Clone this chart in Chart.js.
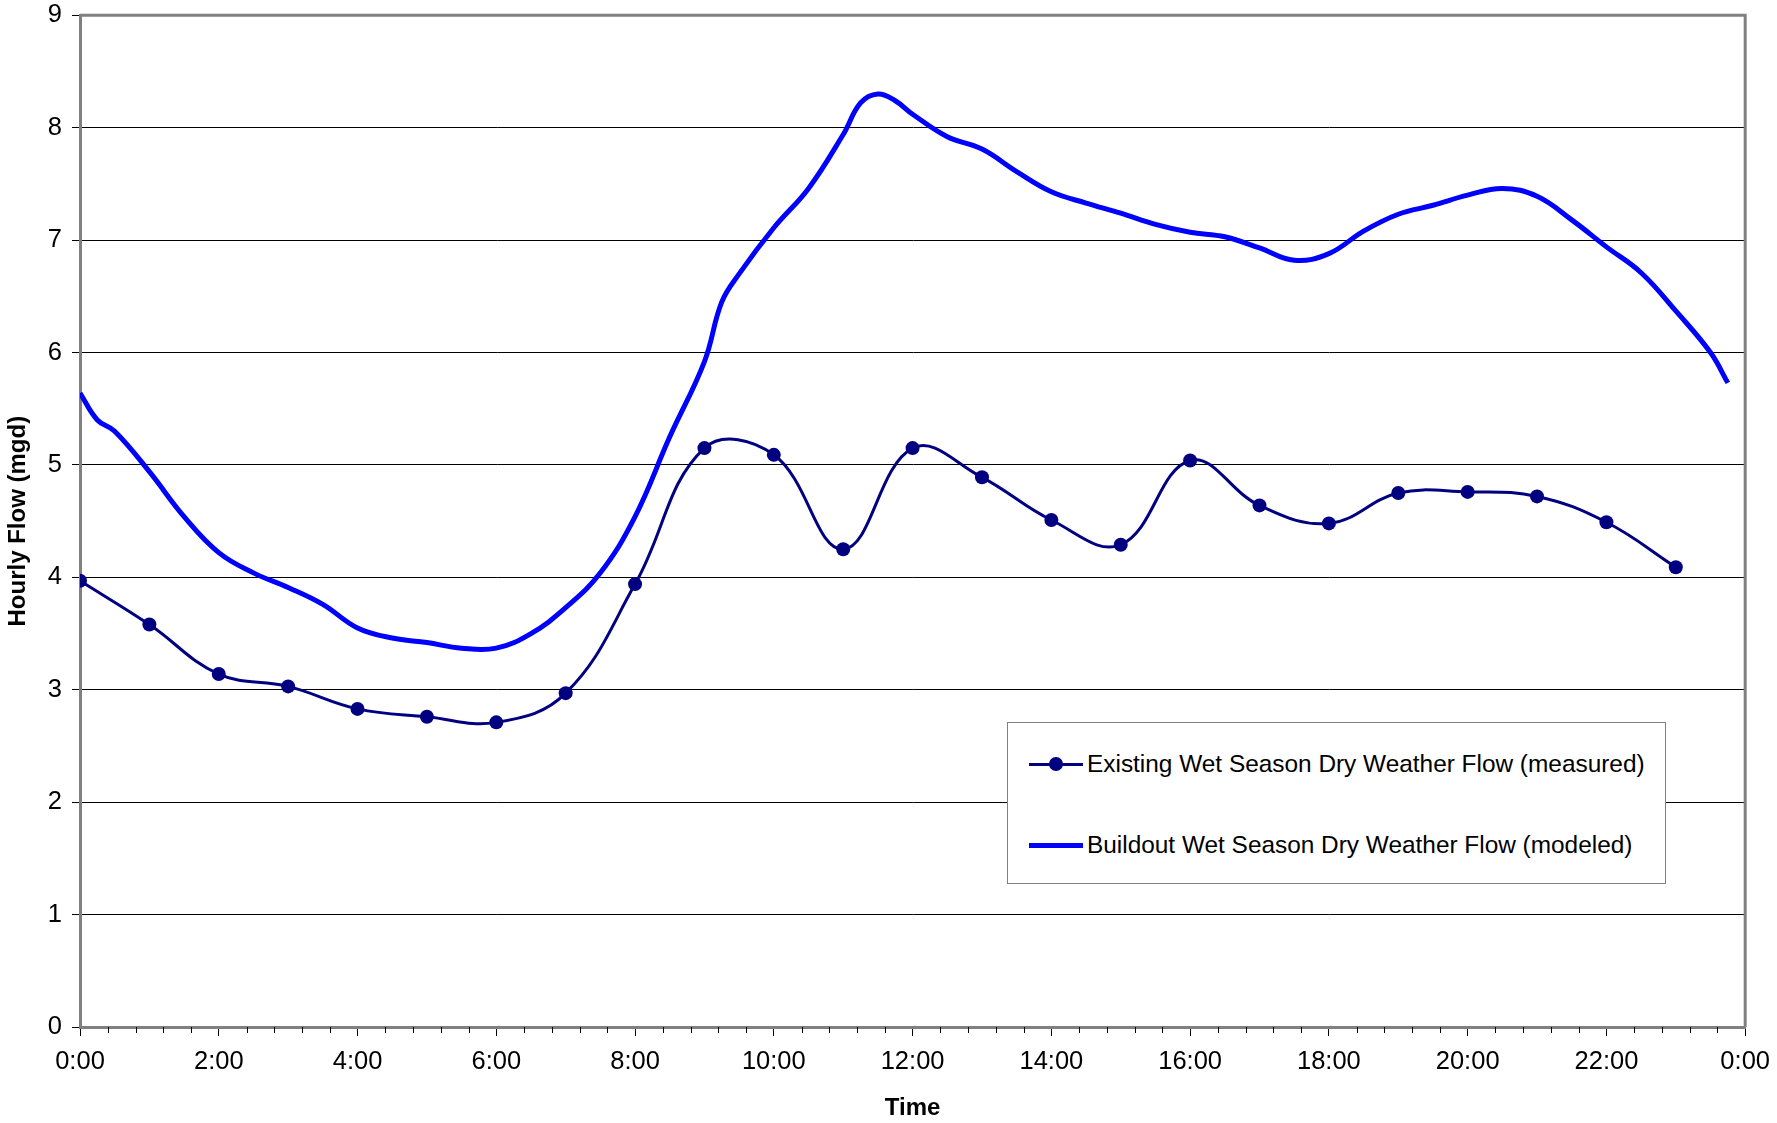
<!DOCTYPE html>
<html>
<head>
<meta charset="utf-8">
<script src="https://cdn.jsdelivr.net/npm/chart.js@4/dist/chart.umd.min.js"></script>
<style>
  html, body { margin: 0; padding: 0; background: #fff; }
  #wrap { position: relative; width: 1777px; height: 1123px; overflow: hidden; }
  #myChart { display: block; margin-top: -10px; }
  #leyenda {
    position: absolute; left: 1007px; top: 722px; width: 657px; height: 160px;
    border: 1px solid #808080; background: #fff;
    font-family: "Liberation Sans", Arial, sans-serif; font-size: 24.4px; color: #000;
  }
  .fila { position: absolute; left: 21px; height: 30px; display: flex; align-items: center; }
  .marca { position: relative; width: 54px; height: 30px; margin-right: 4px; }
  .marca .linea { position: absolute; left: 0; right: 0; top: 50%; }
  .marca .punto { position: absolute; left: 20px; top: 8px; width: 14px; height: 14px; border-radius: 50%; background: #000080; }
</style>
</head>
<body>
<div id="wrap">
  <canvas id="myChart" width="1781" height="1133"></canvas>
  <div id="leyenda"></div>
</div>
<script>
const horasExistente = [0, 1, 2, 3, 4, 5, 6, 7, 8, 9, 10, 11, 12, 13, 14, 15, 16, 17, 18, 19, 20, 21, 22, 23]
const flujoExistente = [3.97, 3.58, 3.14, 3.03, 2.83, 2.76, 2.71, 2.97, 3.94, 5.15, 5.09, 4.25,
                        5.15, 4.89, 4.51, 4.29, 5.04, 4.64, 4.48, 4.75, 4.76, 4.72, 4.49, 4.09]

const horasBuildout = [0, 0.25, 0.5, 1, 1.5, 2, 2.5, 3, 3.5, 4, 4.5, 5, 5.5, 6, 6.5, 7, 7.5, 8, 8.5, 9,
                       9.25, 9.5, 10, 10.5, 11, 11.25, 11.5, 11.75, 12, 12.5, 13, 13.5, 14, 14.5, 15,
                       15.5, 16, 16.5, 17, 17.5, 18, 18.5, 19, 19.5, 20, 20.5, 21, 21.5, 22, 22.5, 23,
                       23.5, 23.75]
const flujoBuildout = [5.64, 5.40, 5.30, 4.94, 4.54, 4.22, 4.04, 3.91, 3.76, 3.55, 3.46, 3.42, 3.37, 3.37,
                       3.50, 3.73, 4.04, 4.54, 5.25, 5.92, 6.45, 6.70, 7.11, 7.46, 7.94, 8.22, 8.30, 8.24,
                       8.12, 7.92, 7.81, 7.61, 7.43, 7.33, 7.24, 7.14, 7.07, 7.03, 6.93, 6.82, 6.88, 7.08,
                       7.23, 7.31, 7.40, 7.46, 7.39, 7.18, 6.94, 6.71, 6.37, 6.00, 5.73]

const ticksX = [0, 2, 4, 6, 8, 10, 12, 14, 16, 18, 20, 22, 24]
const etiquetasX = ["0:00", "2:00", "4:00", "6:00", "8:00", "10:00", "12:00", "14:00", "16:00", "18:00", "20:00", "22:00", "0:00"]

const nombres = ["Existing Wet Season Dry Weather Flow (measured)", "Buildout Wet Season Dry Weather Flow (modeled)"]

const fuente = "'Liberation Sans', Arial, sans-serif"

///MARCO GRIS Y TICKS MENORES
const marcoPlugin = {
    id: "marco",
    beforeDatasetsDraw(chart) {
        const { ctx, chartArea: a } = chart
        ctx.save()
        ctx.strokeStyle = "#808080"
        ctx.lineWidth = 3
        ctx.beginPath()
        ctx.moveTo(a.left, a.top)
        ctx.lineTo(a.right, a.top)
        ctx.lineTo(a.right, a.bottom)
        ctx.stroke()

        const x = chart.scales.x
        ctx.strokeStyle = "#000"
        ctx.lineWidth = 1
        for (let i = 0; i <= 60; i++) {
            if (i % 5 === 0) continue
            const px = Math.round(x.getPixelForValue(i * 0.4)) + 0.5
            ctx.beginPath()
            ctx.moveTo(px, a.bottom)
            ctx.lineTo(px, a.bottom + 6)
            ctx.stroke()
        }
        ctx.restore()
    }
}

const config = {
    type: "line",
    data: {
        datasets: [{
            label: nombres[0],
            data: horasExistente.map((h, i) => ({ x: h, y: flujoExistente[i] })),
            borderColor: "#000080",
            backgroundColor: "#000080",
            borderWidth: 3,
            pointRadius: 7,
            pointBorderWidth: 0,
            tension: 0.4
        }, {
            label: nombres[1],
            data: horasBuildout.map((h, i) => ({ x: h, y: flujoBuildout[i] })),
            borderColor: "#0000ff",
            borderWidth: 5,
            pointRadius: 0,
            tension: 0.4
        }]
    },
    options: {
        responsive: false,
        animation: false,
        layout: { padding: { top: 4, right: 26, left: 0, bottom: 0 } },
        plugins: { legend: { display: false }, tooltip: { enabled: false } },
        scales: {
            x: {
                type: "linear",
                min: 0,
                max: 24,
                afterBuildTicks(scale) {
                    scale.ticks = ticksX.map((v) => ({ value: v }))
                },
                afterFit(scale) { scale.height = 96 },
                ticks: {
                    autoSkip: false,
                    maxRotation: 0,
                    padding: 11,
                    color: "#000",
                    font: { family: fuente, size: 25.5 },
                    callback: (v, i) => etiquetasX[i]
                },
                grid: { drawOnChartArea: false, tickLength: 9, color: "#000" },
                border: { color: "#808080", width: 3 },
                title: {
                    display: true,
                    text: "Time",
                    color: "#000",
                    font: { family: fuente, size: 24, weight: "bold" },
                    padding: { top: 0, bottom: 0 }
                }
            },
            y: {
                min: 0,
                max: 9,
                afterFit(scale) { scale.width = 80 },
                ticks: {
                    stepSize: 1,
                    padding: 10,
                    color: "#000",
                    font: { family: fuente, size: 25.5 }
                },
                grid: { color: "#000", lineWidth: 1, tickLength: 8 },
                border: { color: "#808080", width: 3 },
                title: {
                    display: true,
                    text: "Hourly Flow (mgd)",
                    color: "#000",
                    font: { family: fuente, size: 24, weight: "bold" },
                    padding: { top: 4, bottom: 0 }
                }
            }
        }
    },
    plugins: [marcoPlugin]
}

new Chart(document.getElementById("myChart"), config)

///LEYENDA
const leyenda = document.getElementById("leyenda")
leyenda.innerHTML = `
    <div class="fila" style="top:26px">
        <div class="marca"><div class="linea" style="border-top:3px solid #000080;margin-top:-1px"></div><div class="punto"></div></div>
        <span>${nombres[0]}</span>
    </div>
    <div class="fila" style="top:107px">
        <div class="marca"><div class="linea" style="border-top:5px solid #0000ff;margin-top:-2px"></div></div>
        <span>${nombres[1]}</span>
    </div>
`
</script>
</body>
</html>
